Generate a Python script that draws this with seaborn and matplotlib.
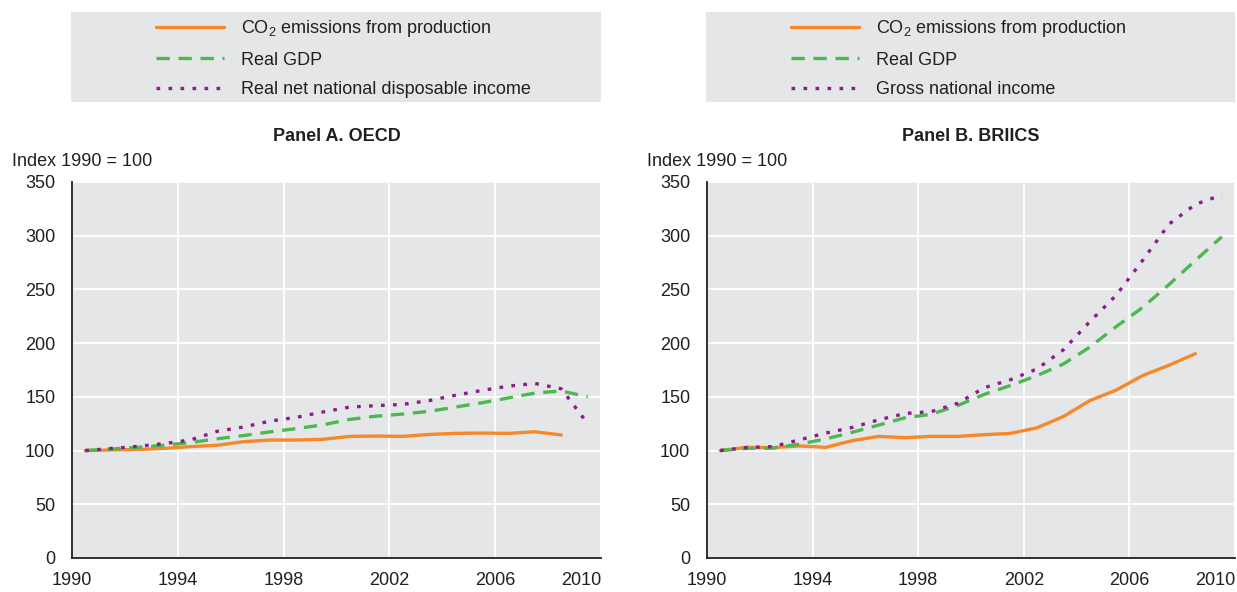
import numpy as np
import pandas as pd
import matplotlib.pyplot as plt
import seaborn as sns

# Valeurs (indice 1990 = 100), points en milieu d'année
years_co2 = list(range(1990, 2009))
years_all = list(range(1990, 2010))

oecd_co2 = [100, 100.6, 101, 102, 103.7, 105, 108.3, 109.8, 109.8, 110.5,
            113.2, 113.5, 113.2, 115, 116, 116.3, 116, 117.5, 114.5]
oecd_gdp = [100, 101.5, 103, 105, 107.5, 111, 114, 117.5, 120.5, 124,
            129, 132, 134, 136.5, 140.5, 144.5, 149, 153.5, 155.5, 150]
oecd_income = [100, 102, 104, 106.5, 110, 118, 122, 127.5, 131, 136,
               140.5, 141.8, 143, 146.5, 151.5, 156, 160, 162.5, 157.5, 125]

briics_co2 = [100, 103, 102.8, 104.3, 103, 109.2, 113.2, 112, 113.2, 113.2,
              114.8, 116, 121.2, 131.7, 146.5, 156.3, 169.8, 179.4, 190.2]
briics_gdp = [100, 102, 102.2, 106, 110.8, 117, 123.7, 130.5, 133.8, 142,
              152.3, 160.6, 169.8, 180.6, 196.3, 215.4, 233.2, 254.5, 277, 299]
briics_income = [100, 102.8, 103.7, 110, 116.3, 121.5, 128.6, 134.5, 136.3, 144,
                 158.5, 166, 176, 193.8, 220, 244.6, 277, 310.8, 329.2, 338]

panel_titles = ["Panel A. OECD", "Panel B. BRIICS"]
income_labels = ["Real net national disposable income", "Gross national income"]
x_ticks = [1990, 1994, 1998, 2002, 2006, 2010]
y_ticks = [0, 50, 100, 150, 200, 250, 300, 350]

ORANGE = '#f7882a'
GREEN = '#4cb84f'
PURPLE = '#8e1b8c'
BG = '#e5e6e8'
DARK = '#231f20'

sns.set_style('white')
plt.rcParams['font.family'] = ['Liberation Sans', 'DejaVu Sans']
plt.rcParams['mathtext.fontset'] = 'custom'
plt.rcParams['mathtext.rm'] = 'Liberation Sans'
plt.rcParams['mathtext.default'] = 'regular'

fig = plt.figure(figsize=(12.37, 5.92), dpi=100)
W, H = 1237, 592

panels = [
    (72, 601, oecd_co2, oecd_gdp, oecd_income),
    (707, 1235, briics_co2, briics_gdp, briics_income),
]

for i, (x0, x1, co2, gdp, inc) in enumerate(panels):
    ax = fig.add_axes([x0 / W, (H - 558) / H, (x1 - x0) / W, (558 - 182) / H])
    ax.set_facecolor(BG)

    xc = np.array(years_co2) + 0.5
    xa = np.array(years_all) + 0.5
    sns.lineplot(x=xc, y=co2, ax=ax, color=ORANGE, linewidth=2.4,
                 label='CO$_2$ emissions from production')
    sns.lineplot(x=xa, y=gdp, ax=ax, color=GREEN, linewidth=2.4,
                 label='Real GDP')
    sns.lineplot(x=xa, y=inc, ax=ax, color=PURPLE, linewidth=2.4,
                 label=income_labels[i])
    lines = ax.get_lines()
    lines[1].set_dashes([4, 2.6])
    lines[2].set_dashes([1.1, 2.5])

    ax.set_xlim(1990, 2010)
    ax.set_ylim(0, 350)
    ax.set_xticks(x_ticks)
    ax.set_yticks(y_ticks)
    ax.set_xticklabels([str(t) for t in x_ticks])
    ax.get_xticklabels()[-1].set_horizontalalignment('right')
    ax.grid(True, color='white', linewidth=1.3)
    ax.set_axisbelow(True)
    for s in ['top', 'right']:
        ax.spines[s].set_visible(False)
    for s in ['left', 'bottom']:
        ax.spines[s].set_color(DARK)
        ax.spines[s].set_linewidth(1.3)
    ax.tick_params(direction='in', length=5, width=1, color=DARK,
                   labelsize=13, labelcolor=DARK)
    ax.tick_params(axis='y', pad=12)
    ax.tick_params(axis='x', pad=10)
    ax.set_xlabel('')
    ax.set_ylabel('')

    handles, labels = ax.get_legend_handles_labels()
    ax.get_legend().remove()

    # boîte de légende grise au-dessus
    lax = fig.add_axes([(x0 - 1) / W, (H - 102) / H, (x1 - x0 + 1) / W, 90 / H])
    lax.set_facecolor(BG)
    lax.set_xticks([])
    lax.set_yticks([])
    for s in lax.spines.values():
        s.set_visible(False)
    lax.legend(handles, labels, loc='upper left', bbox_to_anchor=(0.143, 1.03),
               frameon=False, fontsize=13, handlelength=3.8, handletextpad=0.9,
               labelspacing=0.68, borderpad=0, labelcolor=DARK)

    cx = (x0 + x1) / 2 / W
    fig.text(cx, 1 - 137 / H, panel_titles[i], ha='center', va='center',
             fontsize=13, fontweight='bold', color=DARK)
    fig.text((x0 - 60) / W, 1 - 162 / H, 'Index 1990 = 100', ha='left',
             va='center', fontsize=13, color=DARK)

fig.savefig('out.png', dpi=100)
